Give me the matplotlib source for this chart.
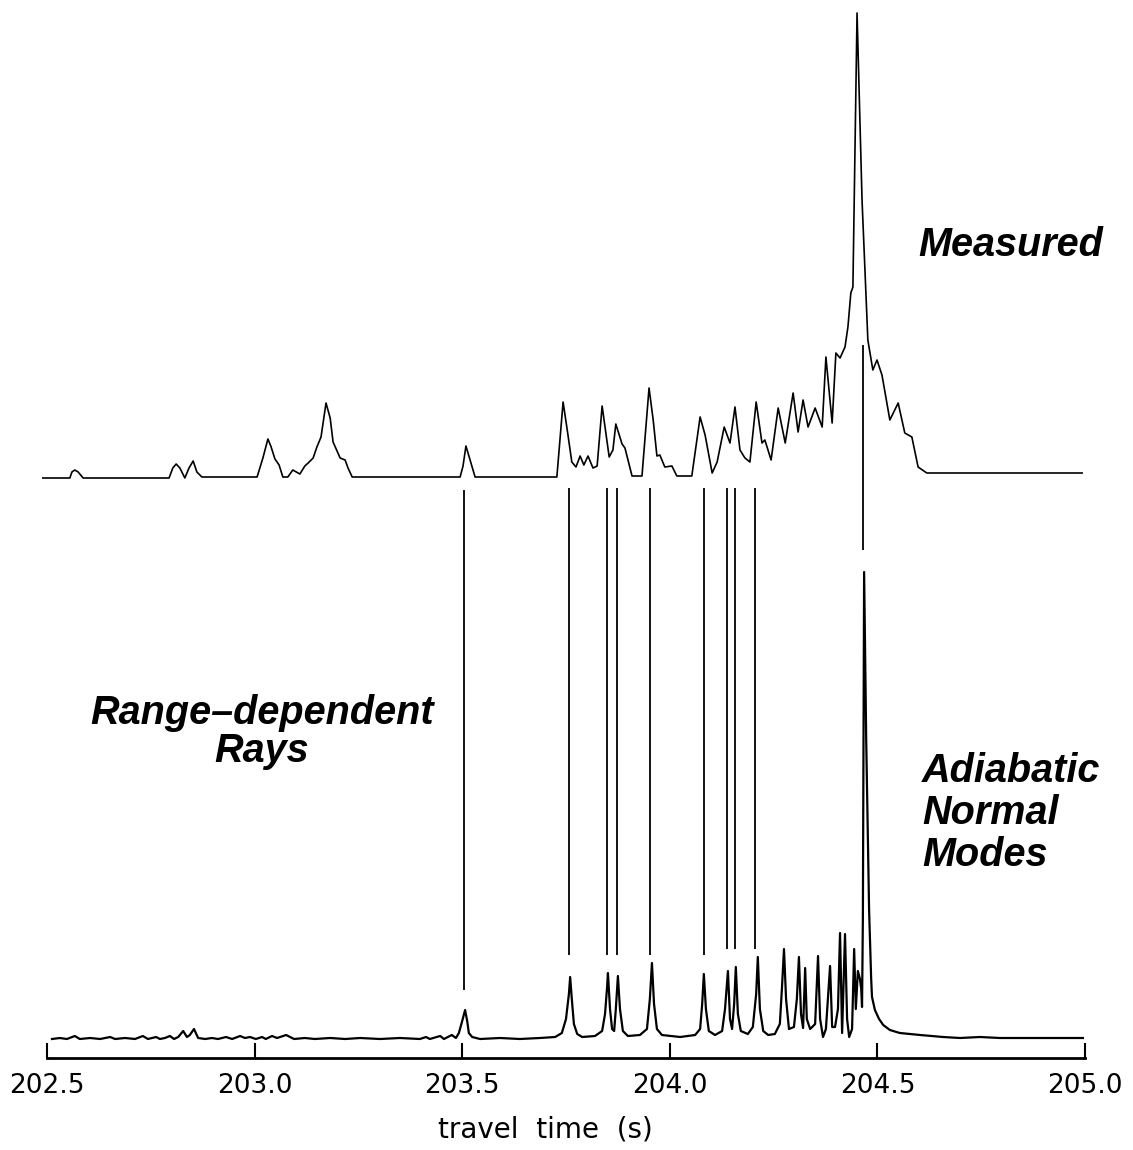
import matplotlib
matplotlib.use('Agg')
import matplotlib.pyplot as plt

# measured arrival pattern: (travel time s, amplitude)
meas_t = [202.490, 202.555, 202.560, 202.567, 202.575, 202.587, 202.794, 202.803, 202.811,
          202.820, 202.832, 202.842, 202.852, 202.861, 202.873, 203.006, 203.020, 203.032,
          203.039, 203.049, 203.059, 203.068, 203.080, 203.092, 203.109, 203.121, 203.129,
          203.141, 203.150, 203.160, 203.172, 203.182, 203.189, 203.206, 203.218, 203.225,
          203.235, 203.495, 203.502, 203.509, 203.519, 203.531, 203.728, 203.743, 203.753,
          203.764, 203.774, 203.784, 203.793, 203.803, 203.815, 203.825, 203.837, 203.854,
          203.863, 203.870, 203.885, 203.892, 203.909, 203.933, 203.950, 203.960, 203.969,
          203.976, 203.988, 204.005, 204.017, 204.053, 204.073, 204.085, 204.102, 204.114,
          204.131, 204.145, 204.157, 204.169, 204.181, 204.193, 204.208, 204.222, 204.229,
          204.244, 204.261, 204.278, 204.297, 204.309, 204.321, 204.333, 204.350, 204.367,
          204.376, 204.391, 204.400, 204.410, 204.422, 204.429, 204.436, 204.441, 204.451,
          204.463, 204.477, 204.489, 204.499, 204.511, 204.530, 204.550, 204.566, 204.583,
          204.598, 204.619, 204.993]
meas_a = [0, 0, 6, 8, 6, 0, 0, 10, 14,
          10, 0, 10, 17, 6, 1, 1, 20, 39,
          32, 19, 13, 1, 1, 8, 4, 12, 15,
          20, 31, 41, 75, 60, 36, 20, 18, 10,
          1, 1, 12, 32, 18, 1, 1, 76, 48,
          16, 11, 22, 13, 22, 10, 12, 72, 21,
          28, 54, 34, 30, 2, 2, 90, 58, 22,
          23, 11, 12, 2, 2, 61, 43, 5, 16,
          51, 35, 71, 28, 20, 16, 76, 35, 38,
          18, 70, 35, 85, 46, 78, 51, 70, 51,
          121, 55, 125, 120, 131, 151, 185, 191, 465,
          278, 138, 108, 118, 103, 58, 75, 45, 41,
          11, 5, 5]

# adiabatic normal mode prediction
mode_t = [202.512, 202.531, 202.548, 202.567, 202.579, 202.604, 202.628, 202.652, 202.664,
          202.688, 202.712, 202.731, 202.743, 202.763, 202.772, 202.784, 202.796, 202.806,
          202.816, 202.828, 202.837, 202.844, 202.854, 202.864, 202.881, 202.897, 202.912,
          202.931, 202.946, 202.965, 202.977, 202.989, 203.003, 203.018, 203.027, 203.042,
          203.054, 203.076, 203.095, 203.121, 203.145, 203.182, 203.218, 203.254, 203.302,
          203.350, 203.398, 203.413, 203.422, 203.447, 203.456, 203.475, 203.485, 203.492,
          203.500, 203.507, 203.512, 203.516, 203.524, 203.543, 203.591, 203.639, 203.687,
          203.724, 203.740, 203.750, 203.757, 203.760, 203.764, 203.769, 203.777, 203.789,
          203.820, 203.837, 203.844, 203.849, 203.851, 203.856, 203.861, 203.866, 203.870,
          203.875, 203.880, 203.887, 203.899, 203.928, 203.945, 203.952, 203.957, 203.962,
          203.969, 203.981, 204.025, 204.061, 204.073, 204.078, 204.082, 204.087, 204.094,
          204.109, 204.126, 204.133, 204.140, 204.145, 204.150, 204.155, 204.159, 204.164,
          204.171, 204.188, 204.200, 204.208, 204.212, 204.217, 204.225, 204.237, 204.253,
          204.265, 204.270, 204.275, 204.280, 204.287, 204.299, 204.306, 204.311, 204.316,
          204.321, 204.326, 204.330, 204.338, 204.350, 204.357, 204.362, 204.369, 204.376,
          204.386, 204.391, 204.398, 204.405, 204.410, 204.415, 204.422, 204.427, 204.432,
          204.439, 204.444, 204.448, 204.453, 204.458, 204.461, 204.463, 204.465, 204.468,
          204.473, 204.480, 204.485, 204.487, 204.494, 204.504, 204.514, 204.530, 204.554,
          204.603, 204.658, 204.699, 204.747, 204.795, 204.843, 204.916, 204.995]
mode_a = [0, 1, 0, 3, 0, 1, 0, 2, 0,
          1, 0, 3, 0, 2, 0, 1, 3, 0,
          2, 8, 2, 4, 10, 1, 0, 1, 0,
          2, 0, 3, 1, 2, 0, 2, 0, 3,
          1, 4, 0, 1, 0, 1, 0, 1, 0,
          1, 0, 2, 0, 3, 0, 4, 1, 6,
          18, 29, 18, 6, 2, 0, 1, 0, 1,
          2, 6, 20, 45, 62, 40, 15, 5, 2,
          3, 8, 25, 52, 66, 30, 10, 8, 30,
          63, 30, 8, 3, 4, 10, 40, 76, 35,
          10, 4, 2, 4, 10, 35, 65, 30, 8,
          4, 8, 30, 68, 20, 10, 35, 72, 25,
          8, 5, 12, 45, 82, 30, 8, 4, 5,
          15, 50, 90, 40, 10, 12, 40, 82, 25,
          11, 71, 20, 10, 15, 83, 20, 2, 10,
          73, 12, 12, 30, 106, 6, 105, 20, 2,
          10, 90, 30, 68, 60, 50, 32, 120, 467,
          300, 129, 60, 42, 29, 20, 14, 9, 6,
          4, 2, 1, 2, 1, 1, 1, 1]

# arrivals identified in both (connecting lines)
conn_t = [203.504, 203.757, 203.849, 203.873, 203.952, 204.082, 204.138, 204.157, 204.205, 204.465]
conn_top = [549, 551, 551, 551, 551, 551, 551, 551, 551, 694]
conn_bottom = [49, 84, 84, 84, 84, 84, 90, 90, 90, 489]

meas_offset = 561

tick_vals = [202.5, 203.0, 203.5, 204.0, 204.5, 205.0]
tick_labels = ['202.5', '203.0', '203.5', '204.0', '204.5', '205.0']

fig = plt.figure(figsize=(11.33, 11.5), dpi=100)
ax = fig.add_axes([47 / 1133, 0.08, (1085 - 47) / 1133, 0.92])

ax.plot(meas_t, [a + meas_offset for a in meas_a], color='black', lw=1.2, clip_on=False)
ax.plot(mode_t, mode_a, color='black', lw=1.6, clip_on=False)
ax.vlines(conn_t, conn_bottom, conn_top, color='black', lw=1.3)

ax.set_xlim(202.5, 205.0)
ax.set_ylim(-19, 1039)

for s in ['top', 'left', 'right']:
    ax.spines[s].set_visible(False)
ax.spines['bottom'].set_linewidth(2)
ax.set_yticks([])
ax.set_xticks(tick_vals)
ax.set_xticklabels(tick_labels)
ax.tick_params(axis='x', direction='in', length=11, width=1.5, pad=11, labelsize=19)
ax.set_xlabel('travel  time  (s)', fontsize=20, labelpad=12, x=0.48)

lab = dict(family='Liberation Sans', weight='bold', style='italic', fontsize=28.5)
ax.text(204.598, 794, 'Measured', ha='left', va='center', **lab)
ax.text(203.018, 307, 'Range\u2013dependent\nRays', ha='center', va='center',
        linespacing=1.0, **lab)
ax.text(204.607, 226, 'Adiabatic\nNormal\nModes', ha='left', va='center',
        linespacing=1.15, **lab)

plt.savefig('out.png', dpi=100)
